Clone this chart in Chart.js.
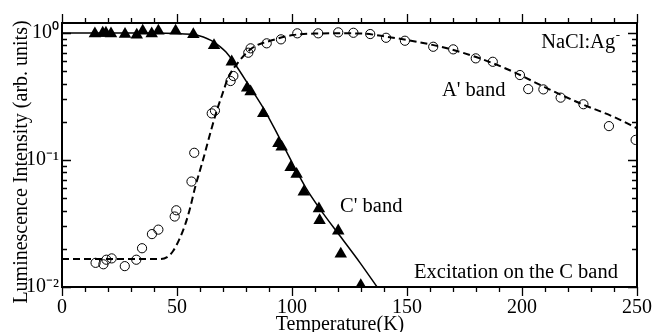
<!DOCTYPE html>
<html>
<head>
<meta charset="utf-8">
<script src="https://cdn.jsdelivr.net/npm/chart.js@4.4.0/dist/chart.umd.min.js"></script>
<style>
  body { margin: 0; background: #fff; }
  canvas { display: block; }
</style>
</head>
<body>
<canvas id="chart" width="654" height="332"></canvas>
<script>
// C' band (filled triangles)
var cTemp = [14.3, 17.7, 19.1, 21.3, 27.4, 32.5, 35.1, 39.0, 41.9, 49.4, 57.1, 66.1, 73.8, 80.5, 82.0, 87.5, 94.1, 95.5, 99.4, 102.0, 105.1, 111.7, 112.0, 120.1, 121.2, 129.9];
var cIntensity = [0.99, 1.0, 1.0, 0.99, 0.98, 0.965, 1.04, 0.99, 1.04, 1.04, 0.976, 0.80, 0.594, 0.37, 0.345, 0.233, 0.135, 0.127, 0.0873, 0.0773, 0.056, 0.0414, 0.0334, 0.0277, 0.0182, 0.0103];

// A' band (open circles)
var aTemp = [14.6, 18.0, 19.3, 21.6, 27.3, 32.3, 34.8, 39.1, 41.9, 49.0, 49.7, 56.3, 57.5, 65.1, 66.5, 73.3, 74.5, 81.0, 82.0, 89.0, 95.2, 102.3, 111.4, 120.1, 126.7, 134.0, 140.9, 149.1, 161.4, 170.1, 179.9, 187.3, 199.1, 202.7, 209.3, 216.8, 226.7, 237.8, 249.4];
var aIntensity = [0.0155, 0.0151, 0.0164, 0.0168, 0.0146, 0.0164, 0.0202, 0.0261, 0.0283, 0.0359, 0.0402, 0.0677, 0.114, 0.233, 0.245, 0.419, 0.459, 0.70, 0.758, 0.83, 0.892, 0.995, 0.995, 1.013, 1.005, 0.982, 0.918, 0.87, 0.78, 0.744, 0.632, 0.594, 0.467, 0.362, 0.360, 0.31, 0.275, 0.185, 0.144];

// fitted curves
var cFitTemp = [0, 40, 50, 57, 60, 63, 66.1, 68.7, 71.3, 74.3, 81.7, 88.3, 93.9, 100.4, 106.1, 112.2, 120.9, 129.6, 137];
var cFitIntensity = [1.0, 1.0, 0.991, 0.973, 0.947, 0.905, 0.849, 0.783, 0.708, 0.602, 0.376, 0.243, 0.157, 0.093, 0.0602, 0.0411, 0.0252, 0.0155, 0.0100];

var aFitTemp = [0, 42.6, 45.7, 48.3, 50.9, 53.5, 55.7, 57.8, 61.3, 65.1, 67.4, 69.6, 72.2, 77.4, 83.0, 91.7, 100.4, 110.9, 123.0, 130.4, 141.3, 154.3, 167.4, 181.7, 196.1, 210.9, 225.2, 241.3, 250];
var aFitIntensity = [0.0166, 0.0166, 0.0172, 0.0192, 0.0235, 0.0308, 0.0419, 0.0602, 0.1, 0.179, 0.248, 0.325, 0.442, 0.613, 0.769, 0.881, 0.964, 0.991, 0.995, 0.991, 0.935, 0.854, 0.758, 0.632, 0.496, 0.367, 0.280, 0.213, 0.178];

var xTickValues = [0, 50, 100, 150, 200, 250];
var yTickValues = [0.01, 0.1, 1];
var yTickLabels = ["10\u207B\u00B2", "10\u207B\u00B9", "10\u2070"];

function pairs(xs, ys) {
  var out = [];
  for (var i = 0; i < xs.length; i++) {
    out.push({x: xs[i], y: ys[i]});
  }
  return out;
}

var serif = "'Liberation Serif', 'Times New Roman', serif";
Chart.defaults.font.family = serif;
Chart.defaults.color = "#000";

// frame, inward/outward ticks, titles and labels inside the plot
var decorations = {
  id: "decorations",
  afterDraw: function(chart) {
    var ctx = chart.ctx;
    var a = chart.chartArea;
    var xs = chart.scales.x;
    var ys = chart.scales.y;
    ctx.save();
    ctx.strokeStyle = "#000";

    // x ticks, pointing out of the frame
    ctx.lineWidth = 1.3;
    for (var t = 0; t <= 250; t += 10) {
      var px = Math.round(xs.getPixelForValue(t)) + 0.5;
      var len = (t % 50 === 0) ? 9 : 5;
      ctx.beginPath();
      ctx.moveTo(px, a.bottom); ctx.lineTo(px, a.bottom + len);
      ctx.moveTo(px, a.top); ctx.lineTo(px, a.top - len);
      ctx.stroke();
    }
    // y ticks, pointing in
    var decades = [0.01, 0.1];
    for (var d = 0; d < decades.length; d++) {
      for (var m = 1; m <= 9; m++) {
        var py = Math.round(ys.getPixelForValue(m * decades[d])) + 0.5;
        var l = (m === 1) ? 9 : 5;
        ctx.beginPath();
        ctx.moveTo(a.left, py); ctx.lineTo(a.left + l, py);
        ctx.moveTo(a.right, py); ctx.lineTo(a.right - l, py);
        ctx.stroke();
      }
    }
    var p1 = Math.round(ys.getPixelForValue(1)) + 0.5;
    ctx.beginPath();
    ctx.moveTo(a.left, p1); ctx.lineTo(a.left + 9, p1);
    ctx.moveTo(a.right, p1); ctx.lineTo(a.right - 9, p1);
    ctx.stroke();

    // frame
    ctx.lineWidth = 2;
    ctx.strokeRect(a.left, a.top, a.right - a.left, a.bottom - a.top);

    // axis titles
    ctx.fillStyle = "#000";
    ctx.font = "20px " + serif;
    ctx.textAlign = "center";
    ctx.textBaseline = "alphabetic";
    ctx.fillText("Temperature(K)", 340, 330);
    ctx.save();
    ctx.translate(27, 162);
    ctx.rotate(-Math.PI / 2);
    ctx.fillText("Luminescence Intensity (arb. units)", 0, 0);
    ctx.restore();

    // labels in the plot
    ctx.font = "20.5px " + serif;
    ctx.textAlign = "right";
    var nx = xs.getPixelForValue(240.5);
    var ny = ys.getPixelForValue(0.76);
    ctx.fillText("NaCl:Ag", nx, ny);
    ctx.font = "13px " + serif;
    ctx.textAlign = "left";
    ctx.fillText("-", nx + 0.5, ny - 9);

    ctx.font = "20.5px " + serif;
    ctx.textAlign = "left";
    ctx.fillText("A' band", xs.getPixelForValue(165.2), ys.getPixelForValue(0.319));
    ctx.fillText("C' band", xs.getPixelForValue(120.9), ys.getPixelForValue(0.039));
    ctx.textAlign = "right";
    ctx.fillText("Excitation on the C band", xs.getPixelForValue(241.7), ys.getPixelForValue(0.0118));
    ctx.restore();
  }
};

var ctx = document.getElementById("chart");
var myChart = new Chart(ctx, {
  type: "scatter",
  data: {
    datasets: [{
      label: "C' band",
      data: pairs(cTemp, cIntensity),
      pointStyle: "triangle",
      pointRadius: 7.2,
      backgroundColor: "#000",
      borderColor: "#000",
      borderWidth: 0,
      showLine: false
    }, {
      label: "A' band",
      data: pairs(aTemp, aIntensity),
      pointStyle: "circle",
      pointRadius: 4.6,
      backgroundColor: "rgba(0,0,0,0)",
      borderColor: "#000",
      borderWidth: 1,
      showLine: false
    }, {
      label: "C' fit",
      data: pairs(cFitTemp, cFitIntensity),
      showLine: true,
      pointRadius: 0,
      borderColor: "#000",
      borderWidth: 1.5,
      cubicInterpolationMode: "monotone"
    }, {
      label: "A' fit",
      data: pairs(aFitTemp, aFitIntensity),
      showLine: true,
      pointRadius: 0,
      borderColor: "#000",
      borderWidth: 2,
      borderDash: [7, 4],
      cubicInterpolationMode: "monotone"
    }]
  },
  options: {
    responsive: false,
    animation: false,
    events: [],
    layout: { padding: { left: 0, right: 17, top: 23, bottom: 0 } },
    plugins: {
      legend: { display: false },
      tooltip: { enabled: false }
    },
    scales: {
      x: {
        type: "linear",
        min: 0,
        max: 250,
        grid: { display: false, drawTicks: false },
        border: { display: false },
        ticks: { stepSize: 50, padding: 9, font: { size: 20 }, color: "#000" },
        afterBuildTicks: function(scale) {
          scale.ticks = xTickValues.map(function(v) { return {value: v}; });
        },
        afterFit: function(scale) {
          scale.height = 45;
          scale.paddingLeft = 0;
          scale.paddingRight = 0;
        }
      },
      y: {
        type: "logarithmic",
        min: 0.01,
        max: 1.2,
        grid: { display: false, drawTicks: false },
        border: { display: false },
        ticks: {
          padding: 3,
          font: { size: 20 },
          color: "#000",
          callback: function(value) {
            var i = yTickValues.indexOf(value);
            return i >= 0 ? yTickLabels[i] : "";
          }
        },
        afterBuildTicks: function(scale) {
          scale.ticks = yTickValues.map(function(v) { return {value: v}; });
        },
        afterFit: function(scale) {
          scale.width = 62;
          scale.paddingTop = 0;
          scale.paddingBottom = 0;
        }
      }
    }
  },
  plugins: [decorations]
});
</script>
</body>
</html>
